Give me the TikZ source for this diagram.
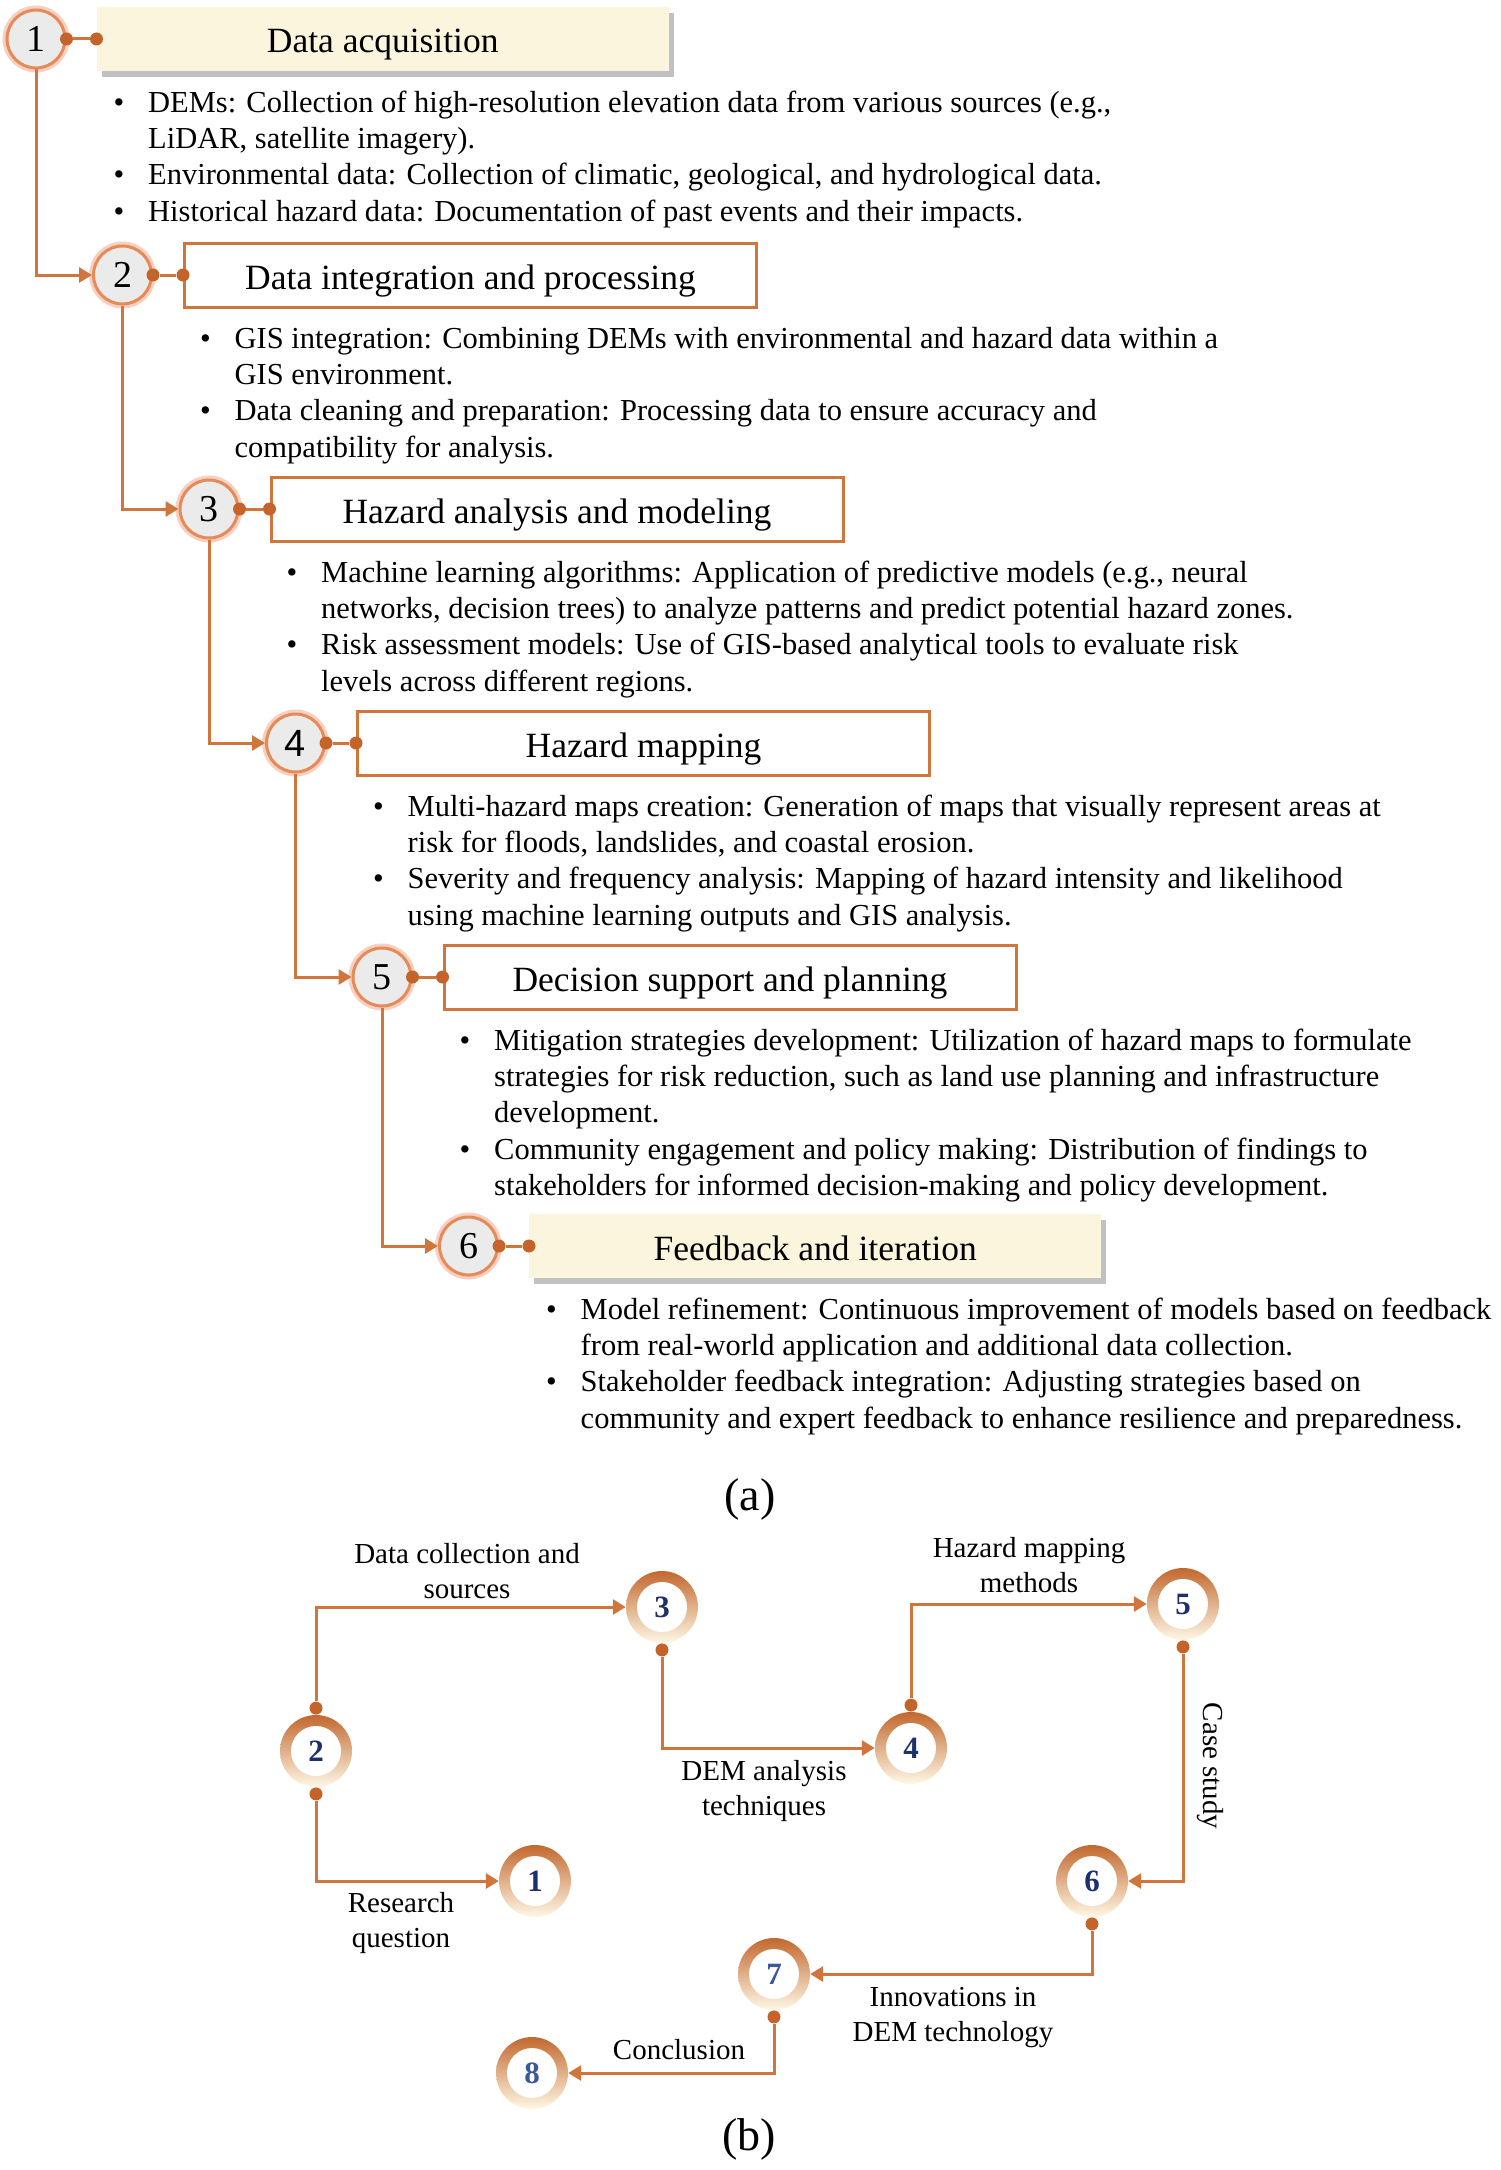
\documentclass[tikz,border=0pt]{standalone}
\usepackage{fontspec}
\setmainfont{Liberation Serif}
\newfontfamily\numsans{Liberation Sans}
\usetikzlibrary{arrows.meta,shadows,positioning}

\definecolor{lineor}{RGB}{208,118,60}
\definecolor{dotor}{RGB}{196,100,42}
\definecolor{ringor}{RGB}{230,138,88}
\definecolor{glowor}{RGB}{247,208,194}
\definecolor{cream}{RGB}{252,245,222}
\definecolor{ringtop}{RGB}{194,104,46}
\definecolor{ringbot}{RGB}{255,248,230}
\definecolor{navy}{RGB}{30,48,108}
\definecolor{lightnavy}{RGB}{58,88,160}

% bullet hanging to the left of a line
\newcommand{\itm}{\strut\llap{\textbullet\hspace{24pt}}}

\tikzset{
  numc/.style={circle, draw=ringor, line width=3pt, fill=black!8, minimum size=58pt,
    inner sep=0pt, font=\fontsize{38}{38}\selectfont, preaction={draw=glowor, line width=9pt}},
  headbox/.style={rectangle, minimum width=572pt, minimum height=64pt, inner sep=0pt,
    text height=30pt, text depth=2pt, font=\fontsize{35.5}{40}\selectfont},
  headfill/.style={headbox, fill=cream,
    drop shadow={shadow xshift=5pt, shadow yshift=-6pt, opacity=0.35, fill=black!70}},
  headline/.style={headbox, draw=lineor, line width=3pt, fill=white},
  items/.style={anchor=north west, align=left, inner sep=0pt, font=\fontsize{30.5}{36.3}\selectfont},
  dot/.style={circle, fill=dotor, inner sep=0pt, minimum size=13pt},
  link/.style={draw=lineor, line width=3pt},
  flow/.style={draw=lineor, line width=3pt, -{Triangle[length=13pt,width=15pt]}},
  ring/.style={circle, minimum size=72pt, inner sep=0pt, top color=ringtop, bottom color=ringbot,
    font=\bfseries\fontsize{31}{31}\selectfont, text=navy,
    path picture={\fill[white] (path picture bounding box.center) circle (25pt);}},
  lbl/.style={anchor=north, align=center, inner sep=0pt, font=\fontsize{29}{35}\selectfont,
    execute at begin node=\strut},
  caption/.style={anchor=base, inner sep=0pt, font=\fontsize{46}{50}\selectfont}
}

\begin{document}
\begin{tikzpicture}[x=1pt, y=-1pt]
    \useasboundingbox (0,0) rectangle (1500,2170);

    % (a) workflow
    \node[numc] (n1) at (36,39) {1};
    \node[numc] (n2) at (122.5,275) {2};
    \node[numc] (n3) at (209,509) {3};
    \node[numc] (n4) at (295.5,743) {\numsans 4};
    \node[numc] (n5) at (382,977) {5};
    \node[numc] (n6) at (468.5,1246) {6};

    \node[headfill, right=30pt of n1] (h1) {Data acquisition};
    \node[headline, right=30pt of n2] (h2) {Data integration and processing};
    \node[headline, right=30pt of n3] (h3) {Hazard analysis and modeling};
    \node[headline, right=30pt of n4] (h4) {Hazard mapping};
    \node[headline, right=30pt of n5] (h5) {Decision support and planning};
    \node[headfill, right=30pt of n6] (h6) {Feedback and iteration};

    \foreach \i/\j in {1/2,2/3,3/4,4/5,5/6}
        \draw[flow] (n\i) |- (n\j);
    \foreach \i in {1,...,6} {
        \node[dot] (p\i) at (n\i.east) {};
        \node[dot] (q\i) at (h\i.west) {};
        \draw[link] (p\i) -- (q\i);
    }

    \node[items] (t1) at (148,86.6) {\itm DEMs: Collection of high-resolution elevation data from various sources (e.g.,\\
        LiDAR, satellite imagery).\\
        \itm Environmental data: Collection of climatic, geological, and hydrological data.\\
        \itm Historical hazard data: Documentation of past events and their impacts.};
    \node[items] (t2) at (234.5,322.6) {\itm GIS integration: Combining DEMs with environmental and hazard data within a\\
        GIS environment.\\
        \itm Data cleaning and preparation: Processing data to ensure accuracy and\\
        compatibility for analysis.};
    \node[items] (t3) at (321,556.6) {\itm Machine learning algorithms: Application of predictive models (e.g., neural\\
        networks, decision trees) to analyze patterns and predict potential hazard zones.\\
        \itm Risk assessment models: Use of GIS-based analytical tools to evaluate risk\\
        levels across different regions.};
    \node[items] (t4) at (407.5,790.6) {\itm Multi-hazard maps creation: Generation of maps that visually represent areas at\\
        risk for floods, landslides, and coastal erosion.\\
        \itm Severity and frequency analysis: Mapping of hazard intensity and likelihood\\
        using machine learning outputs and GIS analysis.};
    \node[items] (t5) at (494,1024.6) {\itm Mitigation strategies development: Utilization of hazard maps to formulate\\
        strategies for risk reduction, such as land use planning and infrastructure\\
        development.\\
        \itm Community engagement and policy making: Distribution of findings to\\
        stakeholders for informed decision-making and policy development.};
    \node[items] (t6) at (580.5,1293.6) {\itm Model refinement: Continuous improvement of models based on feedback\\
        from real-world application and additional data collection.\\
        \itm Stakeholder feedback integration: Adjusting strategies based on\\
        community and expert feedback to enhance resilience and preparedness.};

    \node[caption] (capa) at (750,1510) {(a)};

    % (b) structure
    \node[ring] (c1) at (535,1881) {1};
    \node[ring] (c2) at (316,1751) {2};
    \node[ring] (c3) at (662,1607) {3};
    \node[ring] (c4) at (911,1748) {4};
    \node[ring] (c5) at (1183,1604) {5};
    \node[ring] (c6) at (1092,1881) {6};
    \node[ring, text=lightnavy] (c7) at (774,1974) {7};
    \node[ring, text=lightnavy] (c8) at (532,2073) {8};

    \node[dot, above=0pt of c2] (c2t) {};
    \node[dot, below=0pt of c2] (c2b) {};
    \node[dot, below=0pt of c3] (c3b) {};
    \node[dot, above=0pt of c4] (c4t) {};
    \node[dot, below=0pt of c5] (c5b) {};
    \node[dot, below=0pt of c6] (c6b) {};
    \node[dot, below=0pt of c7] (c7b) {};

    \draw[flow] (c2t) |- (c3);
    \draw[flow] (c3b) |- (c4);
    \draw[flow] (c4t) |- (c5);
    \draw[flow] (c5b) |- (c6);
    \draw[flow] (c6b) |- (c7);
    \draw[flow] (c7b) |- (c8);
    \draw[flow] (c2b) |- (c1);

    \node[lbl] (l23) at (467,1543.5) {Data collection and\\sources};
    \node[lbl] (l34) at (764,1760.5) {DEM analysis\\techniques};
    \node[lbl] (l45) at (1029,1537.5) {Hazard mapping\\methods};
    \node[lbl, rotate=-90, anchor=center] (l56) at (1210,1766) {Case study};
    \node[lbl] (l67) at (953,1987.5) {Innovations in\\DEM technology};
    \node[lbl] (l78) at (679,2034.5) {Conclusion};
    \node[lbl] (l21) at (401,1892.5) {Research\\question};

    \node[caption] (capb) at (749,2150) {(b)};
\end{tikzpicture}
\end{document}
